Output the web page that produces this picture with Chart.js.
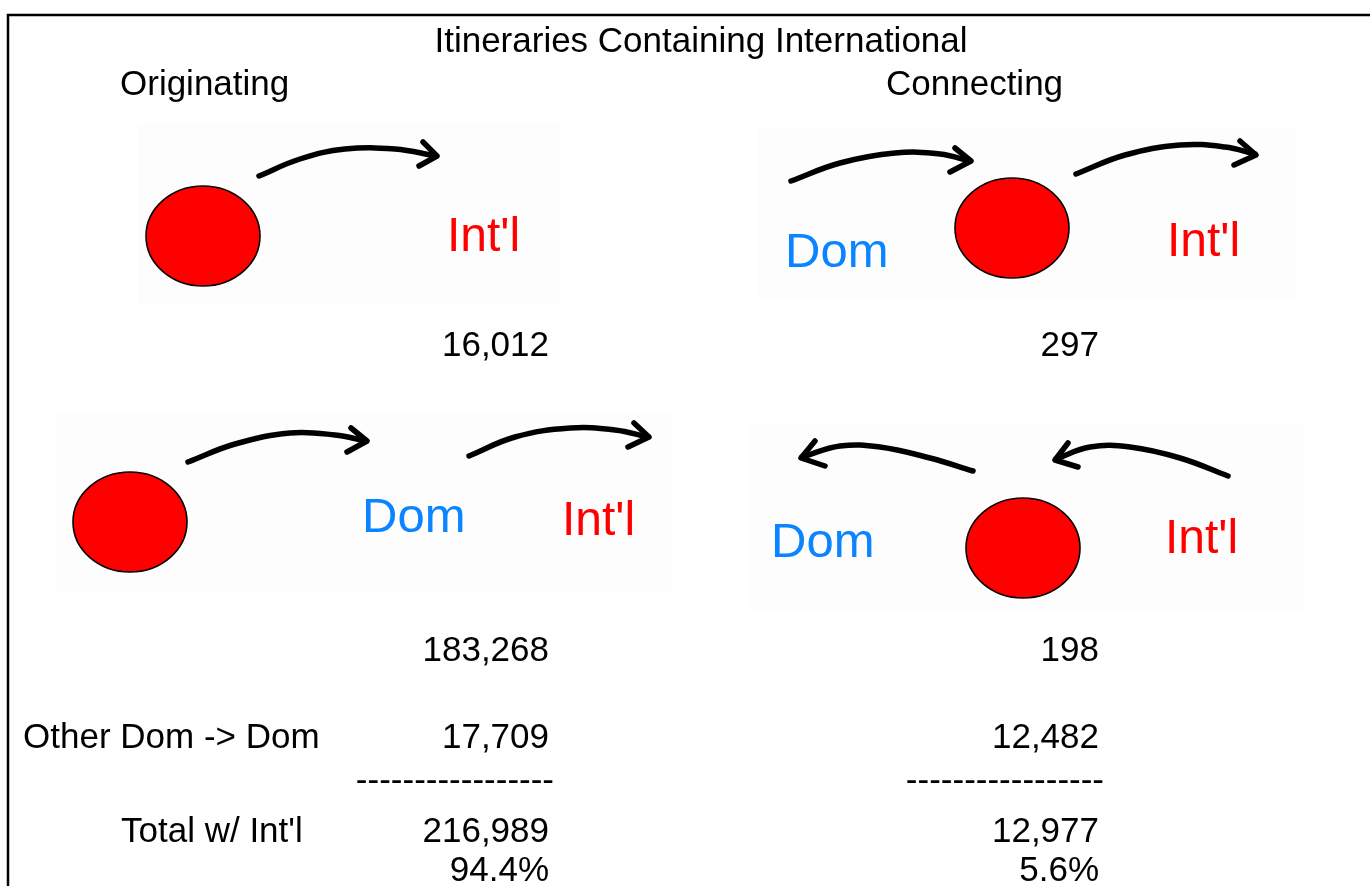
<!DOCTYPE html>
<html>
<head>
<meta charset="utf-8">
<title>Itineraries Containing International</title>
<script src="https://cdn.jsdelivr.net/npm/chart.js@4/dist/chart.umd.min.js"></script>
<style>
  html, body { margin: 0; padding: 0; background: #fff; }
  #wrap { width: 1370px; height: 886px; }
</style>
</head>
<body>
<div id="wrap"><canvas id="diagram" width="1370" height="886"></canvas></div>
<script>
/* ================== DADOS ================== */
const columnNames = ["Originating", "Connecting"];
const originatingCounts = [16012, 183268, 17709, 216989];
const connectingCounts = [297, 198, 12482, 12977];
const columnShares = [94.4, 5.6];
const rowLabels = ["Other Dom -> Dom", "Total w/ Int'l"];

// posições dos aeroportos (círculos) em coordenadas do diagrama
const hubPoints = [
    { x: 203, y: 236 },
    { x: 1012, y: 228 },
    { x: 130, y: 522 },
    { x: 1023, y: 548 }
];

// setas desenhadas à mão: haste + ponta
const arrowShafts = [
    [[259,176],[300,159],[345,149],[395,149],[436,156]],
    [[791,181],[840,163],[895,153],[940,154],[970,161]],
    [[1076,174],[1125,155],[1180,145],[1225,147],[1255,154]],
    [[188,462],[235,444],[290,433],[335,435],[366,441]],
    [[469,456],[515,437],[570,428],[615,430],[648,437]],
    [[973,471],[930,458],[880,447],[840,446],[802,457]],
    [[1228,476],[1180,458],[1130,447],[1090,447],[1056,459]]
];
const arrowHeads = [
    [[423,142],[437,156],[419,166]],
    [[955,148],[971,161],[950,172]],
    [[1240,141],[1256,155],[1234,165]],
    [[351,428],[367,441],[347,452]],
    [[634,423],[649,437],[628,447]],
    [[815,441],[801,458],[825,466]],
    [[1068,443],[1055,460],[1078,467]]
];

// rótulos Dom / Int'l dentro dos quadros
const legLabels = [
    { text: "Int'l", x: 447, y: 238, kind: "int" },
    { text: "Dom", x: 785, y: 253, kind: "dom" },
    { text: "Int'l", x: 1167, y: 243, kind: "int" },
    { text: "Dom", x: 362, y: 518, kind: "dom" },
    { text: "Int'l", x: 562, y: 522, kind: "int" },
    { text: "Dom", x: 771, y: 543, kind: "dom" },
    { text: "Int'l", x: 1165, y: 540, kind: "int" }
];

/* ================== LAYOUT ================== */
const FONT = "'Liberation Sans', Arial, sans-serif";
const colRight = [549, 1099];
const rowBase = [356, 661, 748, 842, 881];
const dashBase = 791;
const panels = [
    [138, 123, 560, 305],
    [758, 127, 1296, 298],
    [55, 412, 672, 592],
    [749, 423, 1305, 612]
];

const fmt = n => n.toLocaleString("en-US");

/* ================== CÍRCULO (ELIPSE) ================== */
function makeHub() {
    const c = document.createElement("canvas");
    c.width = 120; c.height = 106;
    const g = c.getContext("2d");
    g.beginPath();
    g.ellipse(60, 53, 57, 50, 0, 0, Math.PI * 2);
    g.fillStyle = "#ff0000";
    g.fill();
    g.lineWidth = 1.6;
    g.strokeStyle = "#000";
    g.stroke();
    return c;
}
const hubImg = makeHub();

/* ================== DATASETS ================== */
const datasets = [];

// moldura (linha superior e esquerda)
datasets.push({
    data: [{ x: 8, y: 886 }, { x: 8, y: 15 }, { x: 1372, y: 15 }],
    showLine: true, borderColor: "#000", borderWidth: 2.5,
    pointRadius: 0, tension: 0, fill: false, clip: false
});

arrowShafts.forEach(pts => {
    datasets.push({
        data: pts.map(p => ({ x: p[0], y: p[1] })),
        showLine: true, borderColor: "#000", borderWidth: 5.5,
        borderCapStyle: "round", pointRadius: 0, tension: 0.4, fill: false
    });
});
arrowHeads.forEach(pts => {
    datasets.push({
        data: pts.map(p => ({ x: p[0], y: p[1] })),
        showLine: true, borderColor: "#000", borderWidth: 5.5,
        borderCapStyle: "round", borderJoinStyle: "round",
        pointRadius: 0, tension: 0, fill: false
    });
});

datasets.push({
    data: hubPoints,
    pointStyle: hubImg, pointRadius: 55, showLine: false, clip: false
});

/* ================== PLUGIN DE TEXTO ================== */
const textPlugin = {
    id: "diagramText",
    beforeDatasetsDraw(chart) {
        const { ctx, scales: { x, y } } = chart;
        ctx.save();
        ctx.fillStyle = "#fdfdfd";
        panels.forEach(p => {
            const x0 = x.getPixelForValue(p[0]), y0 = y.getPixelForValue(p[1]);
            const x1 = x.getPixelForValue(p[2]), y1 = y.getPixelForValue(p[3]);
            ctx.fillRect(x0, y0, x1 - x0, y1 - y0);
        });
        ctx.restore();
    },
    afterDatasetsDraw(chart) {
        const { ctx, scales: { x, y } } = chart;
        const px = v => x.getPixelForValue(v);
        const py = v => y.getPixelForValue(v);
        ctx.save();
        ctx.fillStyle = "#000";
        ctx.textBaseline = "alphabetic";
        ctx.font = "35px " + FONT;

        ctx.textAlign = "center";
        ctx.fillText("Itineraries Containing International", px(701), py(52));

        ctx.textAlign = "left";
        ctx.fillText(columnNames[0], px(120), py(95));
        ctx.fillText(columnNames[1], px(886), py(95));

        // rótulos das linhas
        ctx.fillText(rowLabels[0], px(23), py(rowBase[2]));
        ctx.fillText(rowLabels[1], px(121), py(rowBase[3]));

        // colunas numéricas
        ctx.textAlign = "right";
        [originatingCounts, connectingCounts].forEach((vals, c) => {
            vals.forEach((v, i) => ctx.fillText(fmt(v), px(colRight[c]), py(rowBase[i])));
            ctx.fillText(columnShares[c].toFixed(1) + "%", px(colRight[c]), py(rowBase[4]));
            ctx.fillText("-----------------", px(colRight[c] + 5), py(dashBase));
        });

        // Dom / Int'l
        ctx.textAlign = "left";
        ctx.textBaseline = "middle";
        legLabels.forEach(l => {
            ctx.font = (l.kind === "int" ? "48px " : "49px ") + FONT;
            ctx.fillStyle = l.kind === "int" ? "#ff0000" : "#0a84ff";
            ctx.fillText(l.text, px(l.x), py(l.y));
        });
        ctx.restore();
    }
};

/* ================== GRÁFICO ================== */
new Chart(document.getElementById("diagram"), {
    type: "scatter",
    data: { datasets },
    options: {
        responsive: false,
        animation: false,
        devicePixelRatio: 1,
        layout: { padding: 0, autoPadding: false },
        plugins: { legend: { display: false }, tooltip: { enabled: false } },
        scales: {
            x: { type: "linear", min: 0, max: 1370, display: false },
            y: { type: "linear", min: 0, max: 886, reverse: true, display: false }
        }
    },
    plugins: [textPlugin]
});
</script>
</body>
</html>
